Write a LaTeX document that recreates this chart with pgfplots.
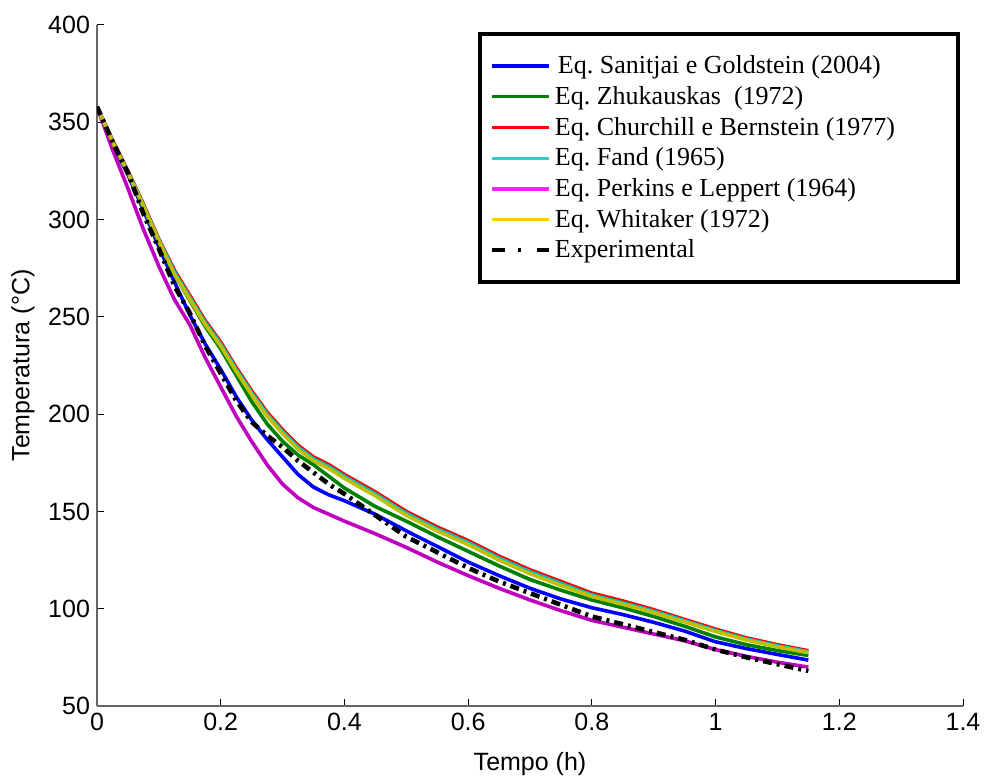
\documentclass[border=0pt]{standalone}
\usepackage{fontspec}
\setmainfont{Liberation Sans}
\newfontfamily\timesf{Liberation Serif}
\usepackage{pgfplots}
\pgfplotsset{compat=1.18}

\definecolor{plotcyan}{rgb}{0,0.75,0.75}
\definecolor{plotmag}{rgb}{0.75,0,0.75}
\definecolor{plotyel}{rgb}{0.75,0.75,0}
\definecolor{legcyan}{HTML}{33CCCC}
\definecolor{legmag}{HTML}{FF22FF}
\definecolor{legyel}{HTML}{FFCC00}
\definecolor{eqgreen}{rgb}{0,0.5,0}

\begin{document}
\begin{tikzpicture}
\begin{axis}[
    scale only axis,
    width=433pt, height=340.5pt,
    xmin=0, xmax=1.4, ymin=50, ymax=400,
    axis lines=left,
    axis line style={-, draw=black!60, line width=1pt},
    tick style={black, line width=0.5pt},
    tick align=inside,
    major tick length=3.5pt,
    xtick={0,0.2,0.4,0.6,0.8,1,1.2,1.4},
    ytick={50,100,150,200,250,300,350,400},
    /pgf/number format/assume math mode=true,
    ticklabel style={font=\fontsize{12.5}{15}\selectfont},
    label style={font=\fontsize{12.5}{15}\selectfont},
    xlabel={Tempo (h)},
    ylabel={Temperatura (°C)},
    xlabel style={at={(axis description cs:0.5,-0.085)}, anchor=center},
    ylabel style={at={(axis description cs:-0.0855,0.5)}, anchor=center},
    legend style={at={(0.9965,0.9956)}, anchor=north east, draw=black,
        line width=2pt, fill=white, inner xsep=5pt, inner ysep=8.75pt,
        font=\timesf\fontsize{13}{15}\selectfont, row sep=0.85pt,
        cells={anchor=west}, yshift=-2pt},
    legend image code/.code={\draw[#1] (0pt,0pt) -- (25pt,0pt); \path (25pt,0pt) -- (28.5pt,0pt);},
]

% Eq. Sanitjai e Goldstein (2004)
\addplot[blue, line width=1.8pt, forget plot] coordinates {
(0,358) (0.025,339) (0.05,323) (0.075,305) (0.1,286) (0.125,268) (0.15,251)
(0.175,236) (0.2,223) (0.225,209) (0.25,197) (0.275,187) (0.3,178) (0.325,169)
(0.35,162.5) (0.375,158.5) (0.4,155.5) (0.45,148.5) (0.5,140) (0.55,132) (0.6,124)
(0.65,117) (0.7,110.5) (0.75,105) (0.8,100.5) (0.85,97) (0.9,93) (0.95,88.5)
(1.0,83) (1.05,79.5) (1.1,76.5) (1.15,73.6)
};
% Eq. Zhukauskas (1972)
\addplot[eqgreen, line width=1.8pt, forget plot] coordinates {
(0,358) (0.025,339.5) (0.05,324) (0.075,306) (0.1,288) (0.125,272) (0.15,258.5)
(0.175,245) (0.2,233.5) (0.225,220) (0.25,206.5) (0.275,195) (0.3,186) (0.325,179)
(0.35,174) (0.375,168) (0.4,162) (0.45,152.5) (0.5,145) (0.55,137) (0.6,129.5)
(0.65,122) (0.7,115) (0.75,109.5) (0.8,104.5) (0.85,100.5) (0.9,96) (0.95,91)
(1.0,85.5) (1.05,81.5) (1.1,78.5) (1.15,76)
};
% Eq. Churchill e Bernstein (1977)
\addplot[red, line width=1.8pt, forget plot] coordinates {
(0,358) (0.025,341) (0.05,325) (0.075,308) (0.1,290) (0.125,274) (0.15,261)
(0.175,248) (0.2,237) (0.225,224) (0.25,212) (0.275,201) (0.3,192) (0.325,184)
(0.35,178) (0.375,174) (0.4,169) (0.45,160) (0.5,150) (0.55,142) (0.6,135)
(0.65,127) (0.7,120) (0.75,114) (0.8,108) (0.85,104) (0.9,99.5) (0.95,94.5)
(1.0,89.5) (1.05,85) (1.1,81.5) (1.15,78.4)
};
% Eq. Fand (1965)
\addplot[plotcyan, line width=1.8pt, forget plot] coordinates {
(0,358) (0.025,340.5) (0.05,324.5) (0.075,307.5) (0.1,289.5) (0.125,273) (0.15,260)
(0.175,247) (0.2,236) (0.225,223) (0.25,211) (0.275,200) (0.3,191) (0.325,183)
(0.35,177) (0.375,173) (0.4,168) (0.45,159) (0.5,149) (0.55,141) (0.6,134)
(0.65,126) (0.7,119) (0.75,113) (0.8,107) (0.85,103) (0.9,98.7) (0.95,93.8)
(1.0,88.8) (1.05,84.4) (1.1,80.9) (1.15,77.9)
};
% Eq. Perkins e Leppert (1964)
\addplot[plotmag, line width=1.8pt, forget plot] coordinates {
(0,358) (0.025,336) (0.05,316) (0.075,295) (0.1,276) (0.125,259) (0.15,246)
(0.175,229) (0.2,214) (0.225,199) (0.25,186) (0.275,174) (0.3,164) (0.325,157)
(0.35,152) (0.375,148.5) (0.4,145) (0.45,138.5) (0.5,131.5) (0.55,124) (0.6,117)
(0.65,110.5) (0.7,104.5) (0.75,99) (0.8,94) (0.85,90.5) (0.9,87) (0.95,83.5)
(1.0,79) (1.05,75.5) (1.1,72.5) (1.15,70)
};
% Eq. Whitaker (1972)
\addplot[plotyel, line width=1.8pt, forget plot] coordinates {
(0,358) (0.025,340) (0.05,324) (0.075,307) (0.1,289) (0.125,272) (0.15,259)
(0.175,246) (0.2,235) (0.225,222) (0.25,210) (0.275,199) (0.3,190) (0.325,182)
(0.35,176) (0.375,172) (0.4,167) (0.45,158) (0.5,148) (0.55,140) (0.6,133)
(0.65,125) (0.7,118) (0.75,112) (0.8,106.3) (0.85,102.3) (0.9,98) (0.95,93.2)
(1.0,88.3) (1.05,83.9) (1.1,80.4) (1.15,77.4)
};
% Experimental
\addplot[black, line width=2.3pt, dash pattern=on 4.5pt off 2.5pt on 1.5pt off 2.5pt, forget plot] coordinates {
(0,358) (0.025,340) (0.05,324) (0.075,303) (0.1,285) (0.125,266) (0.15,252)
(0.175,235) (0.2,221) (0.225,207) (0.25,196) (0.275,189) (0.3,183) (0.325,176)
(0.35,170) (0.375,164) (0.4,159) (0.45,148) (0.5,137) (0.55,129) (0.6,121)
(0.65,114) (0.7,108) (0.75,102) (0.8,96) (0.85,92) (0.9,88) (0.95,84)
(1.0,79) (1.05,75) (1.1,71.5) (1.15,68)
};

\addlegendimage{blue, line width=1.6pt}
\addlegendentry{\hspace{1.5pt}Eq.\ Sanitjai e Goldstein (2004)}
\addlegendimage{eqgreen, line width=1.6pt}
\addlegendentry{Eq.\ Zhukauskas\ \ (1972)}
\addlegendimage{red, line width=1.6pt}
\addlegendentry{\makebox[194.5pt][l]{Eq.\ Churchill e Bernstein (1977)}}
\addlegendimage{legcyan, line width=1.6pt}
\addlegendentry{Eq.\ Fand (1965)}
\addlegendimage{legmag, line width=1.6pt}
\addlegendentry{Eq.\ Perkins e Leppert (1964)}
\addlegendimage{legyel, line width=1.6pt}
\addlegendentry{Eq.\ Whitaker (1972)}
\addlegendimage{black, line width=2pt, dash pattern=on 6.5pt off 6.5pt on 1.5pt off 8pt}
\addlegendentry{Experimental}
\end{axis}
\pgfresetboundingbox
\path (-48.5pt,-35.5pt) rectangle (443.5pt,353pt);
\end{tikzpicture}
\end{document}
